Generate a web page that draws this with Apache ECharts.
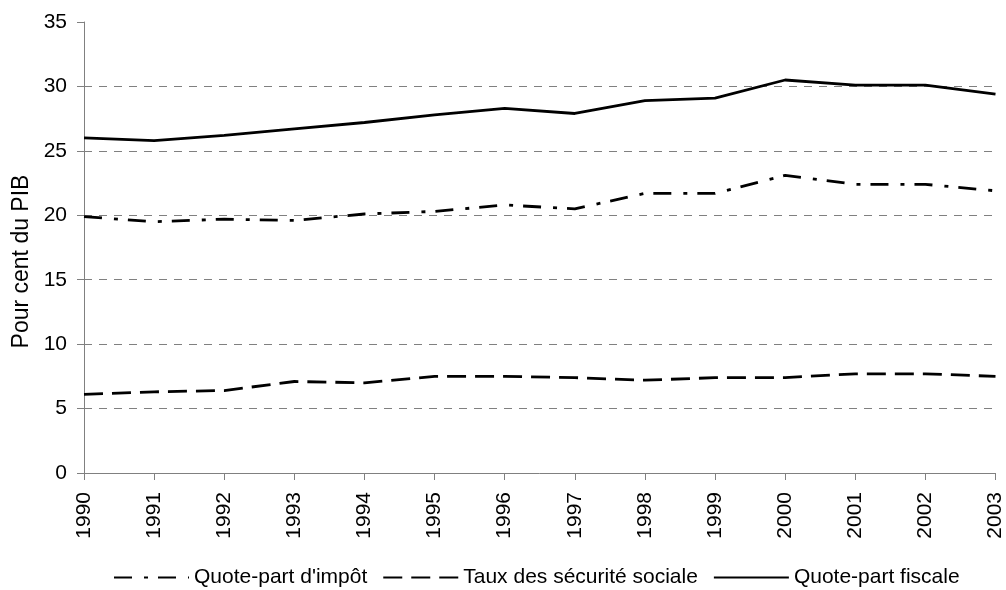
<!DOCTYPE html>
<html><head><meta charset="utf-8">
<script src="https://cdn.jsdelivr.net/npm/echarts@6/dist/echarts.min.js"></script>
<style>html,body{margin:0;padding:0;background:#fff}#c{width:1006px;height:590px}</style>
</head><body><div id="c"></div>
<script>
const years = ['1990','1991','1992','1993','1994','1995','1996','1997','1998','1999','2000','2001','2002','2003'];
const quotePartImpot = [19.9,19.5,19.7,19.6,20.1,20.3,20.8,20.5,21.7,21.7,23.1,22.4,22.4,21.9];
const tauxSecuriteSociale = [6.1,6.3,6.4,7.1,7.0,7.5,7.5,7.4,7.2,7.4,7.4,7.7,7.7,7.5];
const quotePartFiscale = [26.0,25.8,26.2,26.7,27.2,27.8,28.3,27.9,28.9,29.1,30.5,30.1,30.1,29.4];
const seriesNames = ["Quote-part d'impôt", 'Taux des sécurité sociale', 'Quote-part fiscale'];

const font = 'Liberation Sans, Arial, sans-serif';
const chart = echarts.init(document.getElementById('c'), null, {renderer:'canvas'});
chart.setOption({
  animation:false,
  backgroundColor:'#fff',
  grid:{left:84,right:9,top:22,bottom:117,containLabel:false},
  legend:{
    top:567, left:113, padding:0, itemWidth:75, itemHeight:24, itemGap:15,
    itemStyle:{opacity:0},
    textStyle:{fontFamily:font,fontSize:21,color:'#000'},
    data:seriesNames
  },
  xAxis:{
    type:'category', data:years, boundaryGap:false,
    axisLine:{lineStyle:{color:'#808080',width:1}},
    axisTick:{show:true,alignWithLabel:true,length:7,lineStyle:{color:'#808080'}},
    axisLabel:{rotate:90,fontFamily:font,fontSize:21,color:'#000',margin:19,interval:0}
  },
  yAxis:{
    type:'value', min:0, max:35, interval:5,
    name:'Pour cent du PIB', nameLocation:'middle', nameGap:51, nameRotate:90,
    nameTextStyle:{fontFamily:font,fontSize:23,color:'#000',padding:[0,28,0,0]},
    axisLine:{show:true,lineStyle:{color:'#808080',width:1}},
    axisTick:{show:true,length:7,lineStyle:{color:'#808080'}},
    axisLabel:{fontFamily:font,fontSize:21,color:'#000',margin:17},
    splitLine:{show:true,showMinLine:false,showMaxLine:false,lineStyle:{color:'#808080',type:[8,7],width:1}}
  },
  series:[
    {name:seriesNames[0],type:'line',data:quotePartImpot,symbol:'none',
     lineStyle:{color:'#000',width:2.8,type:[18,12,4,10]},itemStyle:{color:'#000'}},
    {name:seriesNames[1],type:'line',data:tauxSecuriteSociale,symbol:'none',
     lineStyle:{color:'#000',width:2.8,type:[19,9]},itemStyle:{color:'#000'}},
    {name:seriesNames[2],type:'line',data:quotePartFiscale,symbol:'none',
     lineStyle:{color:'#000',width:2.8,type:'solid'},itemStyle:{color:'#000'}}
  ]
});
</script></body></html>
